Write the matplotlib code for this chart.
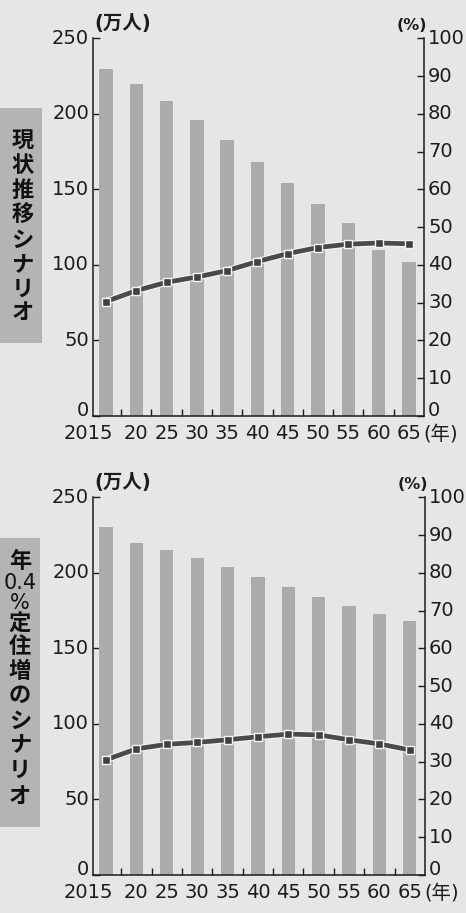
import matplotlib
matplotlib.use("Agg")
import matplotlib.pyplot as plt
import matplotlib.patheffects as pe
import matplotlib.transforms as mtransforms
from matplotlib.patches import Rectangle
import numpy as np

plt.rcParams["font.family"] = ["DejaVu Sans", "Noto Sans CJK JP"]

# ---- data -------------------------------------------------------------
years = ["2015", "20", "25", "30", "35", "40", "45", "50", "55", "60", "65"]

# 現状推移シナリオ: population (万人) and share (%)
pop_current = [230, 219.5, 208.5, 196, 182.5, 168, 154, 140.5, 127.5, 110, 102]
ratio_current = [30.3, 33.2, 35.4, 36.8, 38.5, 40.9, 43.0, 44.6, 45.5, 45.8, 45.6]

# 年0.4%定住増のシナリオ
pop_settle = [230.5, 219.5, 215, 210, 204, 197.5, 190.5, 184, 178, 173, 168]
ratio_settle = [30.5, 33.4, 34.6, 35.1, 35.8, 36.6, 37.3, 37.1, 35.8, 34.7, 33.1]

label_current = ["現", "状", "推", "移", "シ", "ナ", "リ", "オ"]
label_settle = ["年", "0.4", "%", "定", "住", "増", "の", "シ", "ナ", "リ", "オ"]

left_ticks = [0, 50, 100, 150, 200, 250]
right_ticks = [0, 10, 20, 30, 40, 50, 60, 70, 80, 90, 100]

# ---- style ------------------------------------------------------------
W, H = 466, 913
PAPER = "#e6e6e6"
BAR = "#ababab"
BOX = "#b4b4b4"
LINE = "#4a4a4a"
MARK = "#404040"
HALO = "#f4f4f4"
INK = "#1c1c1c"
TICK_FS = 14

fig = plt.figure(figsize=(W / 100, H / 100), dpi=100)
fig.patch.set_facecolor(PAPER)


def px_rect(x0, y0, x1, y1):
    """Pixel box (top-left origin) -> figure fraction [l, b, w, h]."""
    return [x0 / W, 1 - y1 / H, (x1 - x0) / W, (y1 - y0) / H]


def fx(x):
    return x / W


def fy(y):
    return 1 - y / H


def y_labels(ax, ticks, side):
    """Tick numbers beside an axis; the zero sits a little higher."""
    if side == "left":
        base = ax.get_yaxis_transform()
        xpos, ha, dx = 0, "right", -4
    else:
        base = ax.get_yaxis_transform()
        xpos, ha, dx = 1, "left", 4
    for t in ticks:
        dy = 6 if t == 0 else 0
        tr = mtransforms.offset_copy(base, fig=fig, x=dx, y=dy, units="dots")
        ax.text(xpos, t, str(t), transform=tr, ha=ha, va="center",
                fontsize=TICK_FS, color=INK)


def panel(box, pop, ratio):
    x0, y0, x1, y1 = box
    ax = fig.add_axes(px_rect(x0, y0, x1, y1))
    ax.set_facecolor("none")
    x = np.arange(len(years))

    ax.bar(x, pop, width=0.44, color=BAR, zorder=2, linewidth=0)
    ax.set_xlim(-0.43, 10.5)
    ax.set_ylim(0, 250)
    ax.set_yticks(left_ticks)
    ax.set_yticklabels([])
    ax.tick_params(axis="y", direction="in", length=5, width=1.0, colors=INK)

    ax.set_xticks(x)
    ax.set_xticklabels([])
    ax.tick_params(axis="x", which="major", length=0)
    ax.set_xticks(x[:-1] + 0.5, minor=True)
    ax.tick_params(axis="x", which="minor", direction="in", length=5,
                   width=1.0, colors=INK)

    for s in ["top", "right"]:
        ax.spines[s].set_visible(False)
    for s in ["left", "bottom"]:
        ax.spines[s].set_color(INK)
        ax.spines[s].set_linewidth(1.1)

    ax2 = ax.twinx()
    ax2.set_ylim(0, 100)
    ax2.set_yticks(right_ticks)
    ax2.set_yticklabels([])
    ax2.tick_params(axis="y", direction="in", length=5, width=1.0, colors=INK)
    for s in ["top", "left", "bottom"]:
        ax2.spines[s].set_visible(False)
    ax2.spines["right"].set_color(INK)
    ax2.spines["right"].set_linewidth(1.1)

    y_labels(ax, left_ticks, "left")
    y_labels(ax2, right_ticks, "right")

    ax2.plot(x, ratio, color=LINE, lw=3.4, solid_capstyle="butt", zorder=3,
             path_effects=[pe.Stroke(linewidth=5.0, foreground=HALO),
                           pe.Normal()])
    ax2.plot(x, ratio, linestyle="none", marker="s", ms=5.8, mfc=MARK,
             mec=HALO, mew=1.0, zorder=4)

    # year labels under the bars
    trans = mtransforms.offset_copy(ax.get_xaxis_transform(), fig=fig,
                                    y=-23, units="dots")
    for i, lab in enumerate(years):
        if i == 0:
            ax.text(i + 0.24, 0, lab, transform=trans, ha="right",
                    va="baseline", fontsize=TICK_FS, color=INK)
        else:
            ax.text(i, 0, lab, transform=trans, ha="center",
                    va="baseline", fontsize=TICK_FS, color=INK)
    ax.text(10.47, 0, "(年)", transform=trans, ha="left", va="baseline",
            fontsize=TICK_FS, color=INK)

    # unit captions
    fig.text(fx(x0 + 1), fy(y0 - 9), "(万人)", ha="left", va="baseline",
             fontsize=14, fontweight="bold", color=INK)
    fig.text(fx(x1 + 3), fy(y0 - 8), "(%)", ha="right", va="baseline",
             fontsize=11.5, fontweight="bold", color=INK)
    return ax, ax2


panel((93, 38.3, 424, 416), pop_current, ratio_current)
panel((93, 497.3, 425, 875), pop_settle, ratio_settle)

# scenario captions in grey boxes at the left
fig.patches.append(Rectangle((0, fy(343)), fx(42), fy(108) - fy(343),
                             transform=fig.transFigure, facecolor=BOX,
                             edgecolor="none", zorder=0))
fig.patches.append(Rectangle((0, fy(827)), fx(40), fy(538) - fy(827),
                             transform=fig.transFigure, facecolor=BOX,
                             edgecolor="none", zorder=0))

ys_current = [142, 166, 191, 215, 241, 266, 290, 313]
for ch, y in zip(label_current, ys_current):
    fig.text(fx(22.5), fy(y), ch, ha="center", va="center", fontsize=16,
             fontweight="bold", color="#111111")

ys_settle = [561, 583, 603, 624, 647, 671, 696, 722, 746, 771, 797]
for ch, y in zip(label_settle, ys_settle):
    latin = ch in ("0.4", "%")
    fig.text(fx(20), fy(y), ch, ha="center", va="center",
             fontsize=15 if latin else 16,
             fontweight="normal" if latin else "bold", color="#111111")

fig.savefig("out.png", dpi=100, facecolor=PAPER)
